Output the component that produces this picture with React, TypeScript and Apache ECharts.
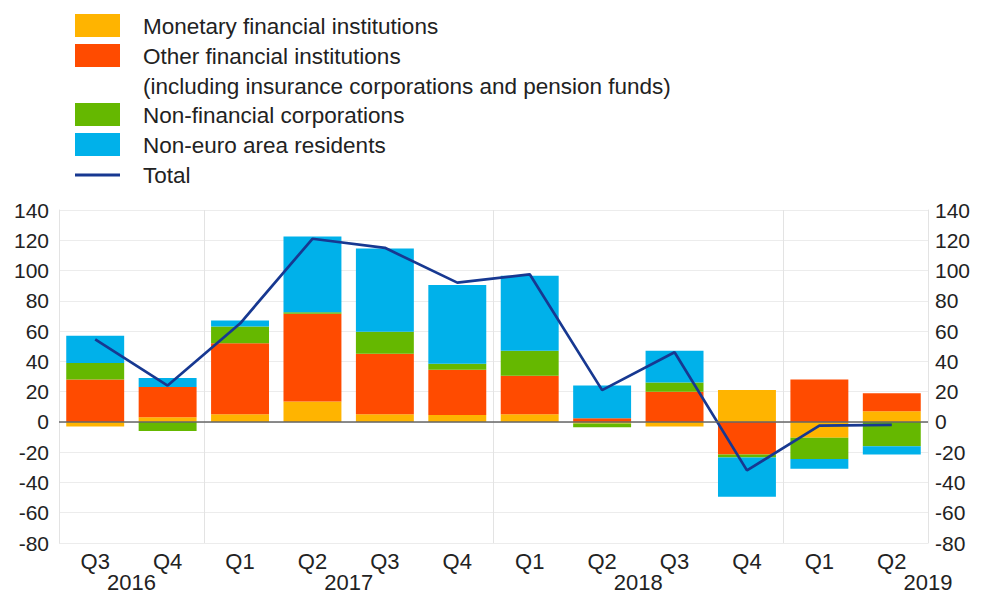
import React, { useEffect, useRef } from "react";
import * as echarts from "echarts";

const categories = ["Q3", "Q4", "Q1", "Q2", "Q3", "Q4", "Q1", "Q2", "Q3", "Q4", "Q1", "Q2"];
const yearPositions = [1, 4, 8, 12];
const yearNames = ["2016", "2017", "2018", "2019"];
const yearBoundaries = [2, 6, 10];

const seriesNames = [
  "Monetary financial institutions",
  "Other financial institutions",
  "Non-financial corporations",
  "Non-euro area residents",
];
const legendLines = [
  "Monetary financial institutions",
  "Other financial institutions",
  "(including insurance corporations and pension funds)",
  "Non-financial corporations",
  "Non-euro area residents",
  "Total",
];

const mfi = [-3, 3, 5, 13.5, 5, 4.5, 5, -1, -3, 21, -10.5, 7];
const ofi = [28, 20, 47, 58, 40, 30, 25.5, 2.5, 20, -21.5, 28, 12];
const nfc = [11, -6, 11, 1, 14.5, 4, 16.5, -2.5, 6, -2, -14, -16];
const nonEuro = [18, 6, 4, 50, 55, 52, 49.5, 21.5, 21, -26, -6.5, -5.5];
const total = [54.5, 24, 65, 121, 115, 92, 97.5, 21, 46, -32, -2.5, -2];

const colors = ["#FFB400", "#FF4B00", "#65B800", "#00B1EA"];
const lineColor = "#173891";
const FONT = "'Liberation Sans', Arial, Helvetica, sans-serif";
const textColor = "#222";

export default function App() {
  const ref = useRef<HTMLDivElement>(null);
  useEffect(() => {
    if (!ref.current) return;
    const chart = echarts.init(ref.current, undefined, { renderer: "svg" });
    const values = [mfi, ofi, nfc, nonEuro];
    const barSeries = values.map((d, i) => ({
      name: seriesNames[i],
      type: "bar",
      stack: "s",
      data: d,
      barCategoryGap: "20%",
      itemStyle: { color: colors[i] },
      ...(i === 0
        ? {
            markLine: {
              silent: true,
              symbol: "none",
              label: { show: false },
              lineStyle: { color: "#666", width: 1.5, type: "solid" },
              data: [{ yAxis: 0 }],
              z: 10,
            },
          }
        : {}),
    }));

    const iconTops = [14, 44, 103, 133];
    const textYs = [26, 56, 86, 115, 145, 175];
    const graphic: any[] = [];
    iconTops.forEach((t, i) => {
      graphic.push({
        type: "rect",
        left: 75,
        top: t,
        shape: { width: 45, height: 23 },
        style: { fill: colors[i] },
      });
    });
    graphic.push({
      type: "line",
      shape: { x1: 75, y1: 175, x2: 120, y2: 175 },
      style: { stroke: lineColor, lineWidth: 3 },
    });
    legendLines.forEach((t, i) => {
      graphic.push({
        type: "text",
        x: 143,
        y: textYs[i],
        style: {
          text: t,
          fill: textColor,
          font: `22.5px ${FONT}`,
          verticalAlign: "middle",
        },
      });
    });

    chart.setOption({
      animation: false,
      backgroundColor: "#fff",
      textStyle: { fontFamily: FONT },
      grid: { left: 59, right: 53, top: 210, bottom: 48, containLabel: false },
      graphic,
      xAxis: [
        {
          type: "category",
          data: categories,
          boundaryGap: true,
          axisLine: { show: false },
          axisTick: {
            show: true,
            interval: (idx: number) => yearBoundaries.includes(idx),
            length: 12,
            lineStyle: { color: "#e3e3e3" },
          },
          axisLabel: { color: textColor, fontSize: 22, margin: 7, fontFamily: FONT },
          splitLine: {
            show: true,
            interval: (idx: number) => yearBoundaries.includes(idx),
            lineStyle: { color: "#e3e3e3", width: 1 },
          },
        },
        {
          type: "value",
          min: 0,
          max: 12,
          interval: 1,
          position: "bottom",
          axisLine: { show: false },
          axisTick: { show: false },
          splitLine: { show: false },
          axisLabel: {
            show: true,
            showMinLabel: true,
            showMaxLabel: true,
            margin: 28,
            color: textColor,
            fontSize: 22,
            fontFamily: FONT,
            formatter: (v: number) => {
              const k = yearPositions.indexOf(v);
              return k >= 0 ? yearNames[k] : "";
            },
          },
        },
      ],
      yAxis: [
        {
          type: "value",
          min: -80,
          max: 140,
          interval: 20,
          position: "left",
          axisLine: { show: true, lineStyle: { color: "#e3e3e3" } },
          axisTick: { show: false },
          axisLabel: { color: textColor, fontSize: 21, margin: 10, fontFamily: FONT },
          splitLine: { show: true, lineStyle: { color: "#ececec", width: 1 } },
        },
        {
          type: "value",
          min: -80,
          max: 140,
          interval: 20,
          position: "right",
          axisLine: { show: true, lineStyle: { color: "#e3e3e3" } },
          axisTick: { show: false },
          axisLabel: { color: textColor, fontSize: 21, margin: 7, fontFamily: FONT },
          splitLine: { show: false },
        },
      ],
      series: [
        ...barSeries,
        {
          name: "Total",
          type: "line",
          data: total,
          symbol: "none",
          lineStyle: { color: lineColor, width: 2.7 },
          itemStyle: { color: lineColor },
          z: 5,
        },
      ],
    });
    return () => chart.dispose();
  }, []);
  return (
    <div
      ref={ref}
      style={{ position: "fixed", left: 0, top: 0, width: 981, height: 593, background: "#fff" }}
    />
  );
}
